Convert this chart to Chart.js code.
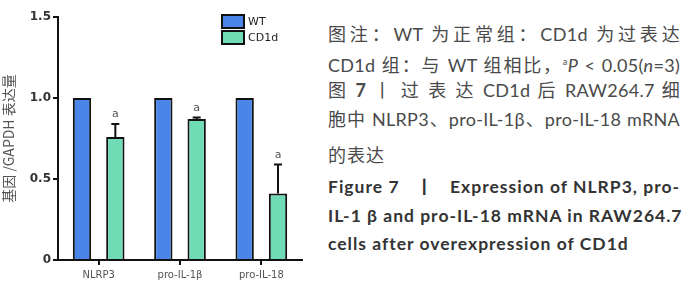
<!DOCTYPE html>
<html>
<head>
<meta charset="utf-8">
<script src="https://cdn.jsdelivr.net/npm/chart.js@4.4.1/dist/chart.umd.min.js"></script>
<style>
  body { margin: 0; background: #fff; width: 700px; height: 297px; overflow: hidden; position: relative; }
  #wrap { position: absolute; left: 0; top: 0; width: 320px; height: 297px; }
  .cap { position: absolute; left: 328px; width: 352px; white-space: nowrap; font-family: Lato, "Noto Sans CJK SC", sans-serif; font-size: 18px; letter-spacing: 0.3px; line-height: 20px; color: #4a4a4a; text-align: justify; text-align-last: justify; }
  .cap.last { text-align-last: left; letter-spacing: 1px; }
  .en { font-weight: bold; color: #333; font-size: 17.5px; letter-spacing: 1px; }
</style>
</head>
<body>
<div id="wrap"><canvas id="chart"></canvas></div>

<div class="cap" style="top:24px">图注：WT 为正常组：CD1d 为过表达</div>
<div class="cap" style="top:52px">CD1d 组：与 WT 组相比，<sup style="font-size:9px">a</sup><i>P</i> &lt; 0.05(<i>n</i>=3)</div>
<div class="cap" style="top:80px">图 <b>7</b> 丨 过 表 达 CD1d 后 RAW264.7 细</div>
<div class="cap" style="top:109px">胞中 NLRP3、pro-IL-1β、pro-IL-18 mRNA</div>
<div class="cap last" style="top:145px">的表达</div>
<div class="cap en" style="top:177px">Figure 7 &nbsp; 丨 &nbsp; Expression of NLRP3, pro-</div>
<div class="cap en" style="top:206px">IL-1 β and pro-IL-18 mRNA in RAW264.7</div>
<div class="cap en last" style="top:234px">cells after overexpression of CD1d</div>

<script>
const categories = ['NLRP3', 'pro-IL-1β', 'pro-IL-18'];
const seriesNames = ['WT', 'CD1d'];
const wtValues = [1.0, 1.0, 1.0];
const cd1dValues = [0.76, 0.87, 0.41];
const cd1dErrors = [0.08, 0.01, 0.18];
const sigMarks = ['a', 'a', 'a'];
const yTickLabels = ['0', '0.5', '1.0', '1.5'];
const yTitle = '基因 /GAPDH 表达量';

const colors = ['#4a86e8', '#6fdcb5'];

// error bars (upper only) + significance letters
const errorBars = {
  id: 'errorBars',
  afterDatasetsDraw(chart) {
    const ctx = chart.ctx;
    const y = chart.scales.y;
    const meta = chart.getDatasetMeta(1);
    ctx.save();
    ctx.strokeStyle = '#111';
    ctx.lineWidth = 2;
    meta.data.forEach((bar, i) => {
      const top = y.getPixelForValue(cd1dValues[i] + cd1dErrors[i]);
      ctx.beginPath();
      ctx.moveTo(bar.x, bar.y);
      ctx.lineTo(bar.x, top);
      ctx.moveTo(bar.x - 4, top);
      ctx.lineTo(bar.x + 4, top);
      ctx.stroke();
      ctx.fillStyle = '#555';
      ctx.font = '11px "DejaVu Sans"';
      ctx.textAlign = 'center';
      ctx.textBaseline = 'bottom';
      ctx.fillText(sigMarks[i], bar.x, top - 4);
    });
    ctx.restore();
  }
};

// legend drawn inside the plot, top right
const boxLegend = {
  id: 'boxLegend',
  afterDraw(chart) {
    const ctx = chart.ctx;
    const x0 = chart.chartArea.left + 164;
    ctx.save();
    seriesNames.forEach((name, i) => {
      const yy = 15 + i * 16;
      ctx.fillStyle = colors[i];
      ctx.fillRect(x0, yy, 22, 13);
      ctx.strokeStyle = '#111';
      ctx.lineWidth = 2;
      ctx.strokeRect(x0, yy, 22, 13);
      ctx.fillStyle = '#222';
      ctx.font = '11px "DejaVu Sans"';
      ctx.textAlign = 'left';
      ctx.textBaseline = 'middle';
      ctx.fillText(name, x0 + 26, yy + 7);
    });
    ctx.restore();
  }
};

new Chart(document.getElementById('chart'), {
  type: 'bar',
  data: {
    labels: categories,
    datasets: [
      { label: seriesNames[0], data: wtValues, backgroundColor: colors[0], borderColor: '#111', borderWidth: 2 },
      { label: seriesNames[1], data: cd1dValues, backgroundColor: colors[1], borderColor: '#111', borderWidth: 2 }
    ]
  },
  options: {
    responsive: true,
    maintainAspectRatio: false,
    animation: false,
    categoryPercentage: 0.82,
    barPercentage: 0.55,
    layout: { padding: { top: 17, right: 18, left: 0, bottom: 0 } },
    plugins: { legend: { display: false }, tooltip: { enabled: false } },
    scales: {
      x: {
        grid: { offset: false, drawOnChartArea: false, tickLength: 5, color: '#111', lineWidth: 2 },
        border: { color: '#111', width: 2 },
        ticks: { color: '#555', font: { family: 'DejaVu Sans', size: 10 }, padding: 4 },
        afterFit(scale) { scale.height = 37; }
      },
      y: {
        min: 0, max: 1.5,
        ticks: { stepSize: 0.5, color: '#333', font: { family: 'DejaVu Sans', size: 12, weight: 'bold' }, padding: 2,
          callback: (v, i) => yTickLabels[i] },
        grid: { drawOnChartArea: false, tickLength: 5, color: '#111', lineWidth: 2 },
        border: { color: '#111', width: 2 },
        title: { display: true, text: yTitle, color: '#555', font: { family: '"Noto Sans CJK SC"', size: 14 }, padding: { top: 0, bottom: 1 } },
        afterFit(scale) { scale.width = 58; }
      }
    }
  },
  plugins: [errorBars, boxLegend]
});
</script>
</body>
</html>
